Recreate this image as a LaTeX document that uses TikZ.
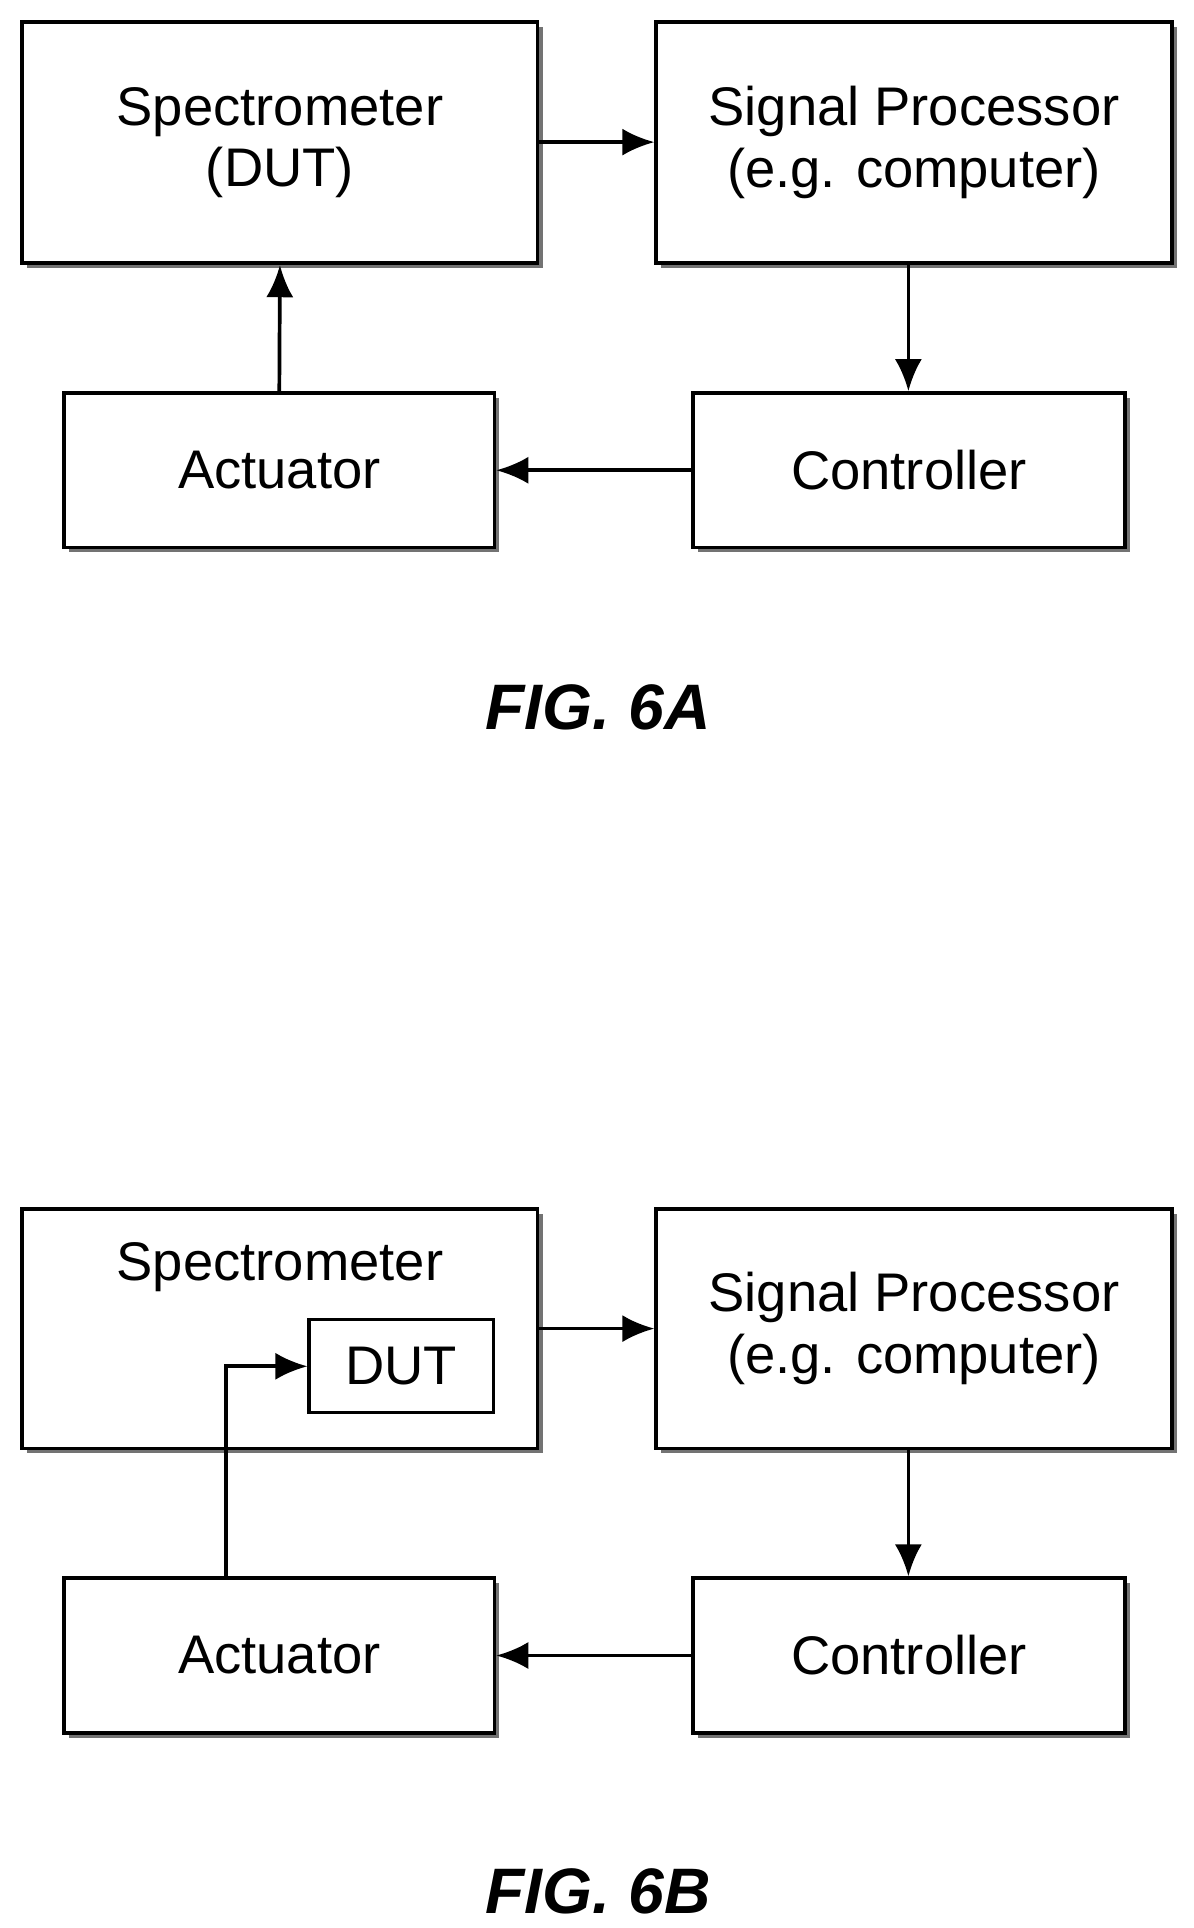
\documentclass[tikz,border=0pt]{standalone}
\usepackage{fontspec}
\setmainfont{Liberation Sans}
\usetikzlibrary{arrows.meta,shadows}
\begin{document}
\begin{tikzpicture}[x=1pt,y=-1pt,
 box/.style={draw,line width=3pt,fill=white,inner sep=0pt,align=center,font=\fontsize{44}{50}\selectfont,
   drop shadow={shadow xshift=4pt,shadow yshift=-4pt,fill=black!55,opacity=1}},
 inbox/.style={draw,line width=2.5pt,fill=white,inner sep=0pt,font=\fontsize{44}{50}\selectfont},
 arr/.style={line width=3pt,-{Latex[length=26pt,width=22pt]}},
 fig/.style={font=\fontsize{52}{58}\selectfont\bfseries\itshape}]
\useasboundingbox (0,0) rectangle (966,1560);
% FIG 6A
\node[box,minimum width=417pt,minimum height=195pt] (s1) at (226.5,115.5) {Spectrometer\\(DUT)};
\node[box,minimum width=417pt,minimum height=195pt] (p1) at (739.5,115.5) {Signal Processor\\(e.g. computer)};
\node[box,minimum width=348pt,minimum height=125pt] (a1) at (226,380.5) {Actuator};
\node[box,minimum width=349pt,minimum height=125pt] (c1) at (735.5,380.5) {Controller};
\draw[arr] (s1.east|-0,115) -- (p1.west|-0,115);
\draw[arr] (p1.south-|735,0) -- (c1.north-|735,0);
\draw[arr] (c1.west) -- (a1.east);
\draw[arr] (a1.north) -- (s1.south);
\node[fig] (f1) at (484,572) {FIG. 6A};
% FIG 6B
\node[box,minimum width=417pt,minimum height=194pt] (s2) at (226.5,1075) {};
\node[font=\fontsize{44}{50}\selectfont] (st2) at (226.5,1025) {Spectrometer};
\node[inbox,minimum width=149pt,minimum height=75pt] (d2) at (324.5,1105.5) {DUT};
\node[box,minimum width=417pt,minimum height=194pt] (p2) at (739.5,1075) {Signal Processor\\(e.g. computer)};
\node[box,minimum width=348pt,minimum height=125pt] (a2) at (226,1339.5) {Actuator};
\node[box,minimum width=349pt,minimum height=125pt] (c2) at (735.5,1339.5) {Controller};
\draw[arr] (s2.east|-0,1075) -- (p2.west|-0,1075);
\draw[arr] (p2.south-|735,0) -- (c2.north-|735,0);
\draw[arr] (c2.west) -- (a2.east);
\draw[arr] (a2.north-|183,0) |- (d2.west);
\node[fig] (f2) at (484,1530) {FIG. 6B};
\end{tikzpicture}
\end{document}
